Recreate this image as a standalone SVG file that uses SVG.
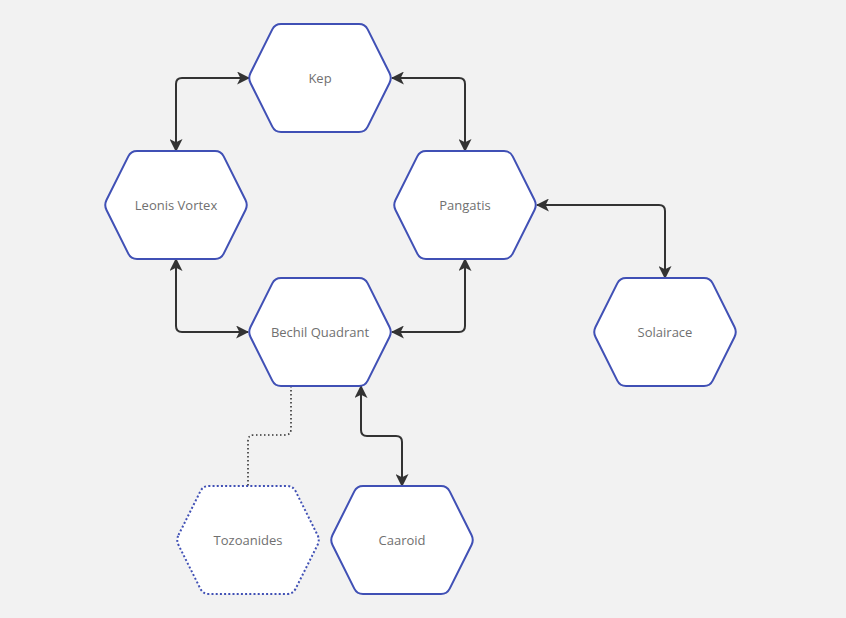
<svg xmlns="http://www.w3.org/2000/svg" width="846" height="618" viewBox="0 0 846 618">
<style>
.bg{fill:#f2f2f2}
.hex{fill:#ffffff;stroke:#4050b5;stroke-width:2}
.dotted{stroke-dasharray:2 2.2}
.lbl{font-family:"Open Sans","Liberation Sans",sans-serif;font-size:13px;fill:#707070;text-anchor:middle;dominant-baseline:central}
.edge{fill:none;stroke:#333333;stroke-width:2}
.edge.arr{marker-start:url(#ah);marker-end:url(#ah)}
.edge.dot{stroke-dasharray:1.5 2.5;stroke-width:1.6}
</style>
<defs>
<marker id="ah" viewBox="0 0 12 12" refX="11" refY="6" markerWidth="13" markerHeight="13" markerUnits="userSpaceOnUse" orient="auto-start-reverse">
<path d="M0,0 L12,6 L0,12 L3,6 Z" fill="#333333"/>
</marker>
<path id="hx" d="M -69.5,-5 L -47.7,-48.6 Q -45,-54 -39,-54 L 39,-54 Q 45,-54 47.7,-48.6 L 69.5,-5 Q 72,0 69.5,5 L 47.7,48.6 Q 45,54 39,54 L -39,54 Q -45,54 -47.7,48.6 L -69.5,5 Q -72,0 -69.5,-5 Z"/>
</defs>
<rect class="bg" x="0" y="0" width="846" height="618"/>
<g id="connectors">
<path class="edge arr" d="M 176,151 V 84 Q 176,78 182,78 H 249"/>
<path class="edge arr" d="M 465,151 V 84 Q 465,78 459,78 H 392"/>
<path class="edge arr" d="M 176,259 V 326 Q 176,332 182,332 H 248"/>
<path class="edge arr" d="M 465,259 V 326 Q 465,332 459,332 H 392"/>
<path class="edge arr" d="M 537,205 H 659 Q 665,205 665,211 V 278"/>
<path class="edge arr" d="M 361,386 V 430 Q 361,436 367,436 H 396 Q 402,436 402,442 V 486"/>
<path class="edge dot" d="M 291,386 V 429 Q 291,435 285,435 H 254 Q 248,435 248,441 V 486"/>
</g>
<g id="node-kep" transform="translate(320,78)">
<use href="#hx" class="hex"/>
<text class="lbl" x="0" y="0">Kep</text>
</g>
<g id="node-leonis-vortex" transform="translate(176,205)">
<use href="#hx" class="hex"/>
<text class="lbl" x="0" y="0">Leonis Vortex</text>
</g>
<g id="node-pangatis" transform="translate(465,205)">
<use href="#hx" class="hex"/>
<text class="lbl" x="0" y="0">Pangatis</text>
</g>
<g id="node-bechil-quadrant" transform="translate(320,332)">
<use href="#hx" class="hex"/>
<text class="lbl" x="0" y="0">Bechil Quadrant</text>
</g>
<g id="node-solairace" transform="translate(665,332)">
<use href="#hx" class="hex"/>
<text class="lbl" x="0" y="0">Solairace</text>
</g>
<g id="node-tozoanides" transform="translate(248,540)">
<use href="#hx" class="hex dotted"/>
<text class="lbl" x="0" y="0">Tozoanides</text>
</g>
<g id="node-caaroid" transform="translate(402,540)">
<use href="#hx" class="hex"/>
<text class="lbl" x="0" y="0">Caaroid</text>
</g>
</svg>
